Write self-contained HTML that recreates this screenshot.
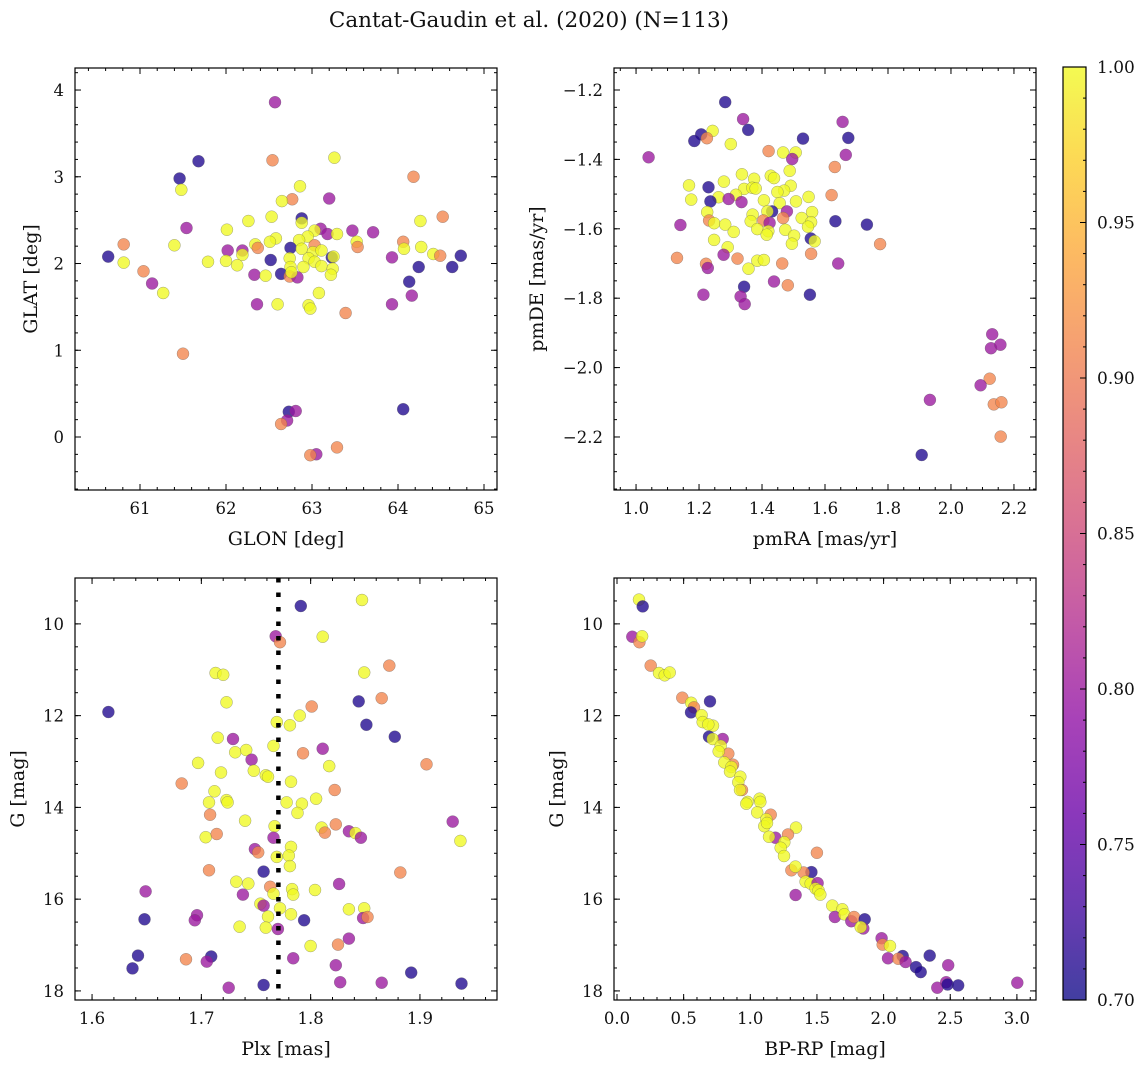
<!DOCTYPE html>
<html><head><meta charset="utf-8">
<style>
html,body{margin:0;padding:0;background:#fff;}
svg{display:block;font-family:"DejaVu Serif","Liberation Serif",serif;}
</style></head>
<body>
<svg id="fig" width="1148" height="1067" viewBox="0 0 1148 1067" xmlns="http://www.w3.org/2000/svg">
<rect x="0" y="0" width="1148" height="1067" fill="#fff"/>
<text x="529" y="27" font-size="21.5" text-anchor="middle" fill="#111">Cantat-Gaudin et al. (2020) (N=113)</text>
</svg>
<script>
// ---------- Panel 1: GLON vs GLAT ----------
const glon = [62.57,62.54,63.26,61.68,61.46,61.48,64.18,62.86,62.77,62.65,63.20,64.52,62.53,62.26,62.88,62.88,64.26,61.54,62.01,63.10,63.18,63.29,63.03,62.95,63.47,63.71,60.81,61.40,62.34,62.37,62.58,62.51,62.85,63.52,63.53,64.06,64.07,64.27,64.41,64.49,64.73,60.63,60.81,61.79,62.02,62.19,62.19,62.00,62.13,62.52,62.75,62.88,63.03,63.01,63.11,63.23,63.25,62.74,62.96,62.75,62.90,63.03,63.11,63.24,63.93,64.24,64.63,61.04,61.14,61.27,62.33,62.46,62.64,62.74,62.83,62.76,63.22,64.13,64.16,63.08,62.36,62.60,62.96,62.98,63.93,63.39,61.50,62.73,62.81,62.71,62.64,64.06,63.29,63.05,62.98];
const glat = [3.86,3.19,3.22,3.18,2.98,2.85,3.00,2.89,2.74,2.72,2.75,2.54,2.54,2.49,2.52,2.47,2.49,2.41,2.39,2.40,2.34,2.34,2.38,2.31,2.38,2.36,2.22,2.21,2.22,2.18,2.29,2.25,2.27,2.25,2.19,2.25,2.17,2.19,2.11,2.09,2.09,2.08,2.01,2.02,2.15,2.15,2.10,2.03,1.98,2.04,2.18,2.17,2.21,2.13,2.15,2.07,2.08,2.06,2.06,1.96,1.96,2.02,1.97,1.94,2.07,1.96,1.96,1.91,1.77,1.66,1.87,1.86,1.88,1.85,1.84,1.90,1.87,1.79,1.63,1.66,1.53,1.53,1.52,1.48,1.53,1.43,0.96,0.29,0.30,0.19,0.15,0.32,-0.12,-0.20,-0.21];
const prob1 = [0.80,0.91,1,0.71,0.71,1,0.91,1,0.91,1,0.80,0.91,1,1,0.71,1,1,0.80,1,0.80,0.80,1,1,1,0.80,0.80,0.91,1,1,0.91,1,1,1,1,0.91,0.91,1,1,1,0.91,0.71,0.71,1,1,0.80,0.80,1,1,1,0.71,0.71,1,0.91,1,1,0.71,1,1,1,1,1,1,1,1,0.80,0.71,0.71,0.91,0.80,1,0.80,1,0.71,0.91,0.80,1,1,0.71,0.80,1,0.80,1,1,1,0.80,0.91,0.91,0.71,0.80,0.80,0.91,0.71,0.91,0.80,0.91];

// ---------- Panel 2: pmRA vs pmDE ----------
const pmra = [1.283,1.340,1.356,1.243,1.207,1.225,1.185,1.301,1.530,1.656,1.674,1.666,1.040,1.421,1.467,1.507,1.496,1.631,1.488,1.336,1.375,1.428,1.438,1.279,1.168,1.230,1.491,1.343,1.369,1.380,1.470,1.317,1.449,1.621,1.262,1.175,1.236,1.294,1.335,1.406,1.508,1.548,1.456,1.479,1.432,1.417,1.226,1.232,1.248,1.370,1.364,1.404,1.424,1.467,1.526,1.559,1.556,1.546,1.283,1.141,1.633,1.733,1.310,1.385,1.420,1.415,1.474,1.502,1.495,1.555,1.567,1.248,1.291,1.775,1.278,1.322,1.556,1.130,1.222,1.228,1.357,1.385,1.406,1.464,1.642,1.438,1.482,1.343,1.214,1.552,1.332,1.345,2.131,2.127,2.157,2.123,2.094,1.933,2.136,2.160,2.158,1.907];
const pmde = [-1.235,-1.284,-1.315,-1.318,-1.328,-1.339,-1.347,-1.356,-1.340,-1.292,-1.338,-1.387,-1.394,-1.376,-1.380,-1.380,-1.399,-1.422,-1.433,-1.443,-1.456,-1.447,-1.454,-1.464,-1.475,-1.480,-1.476,-1.485,-1.482,-1.484,-1.490,-1.502,-1.494,-1.503,-1.509,-1.516,-1.521,-1.514,-1.523,-1.518,-1.521,-1.508,-1.526,-1.550,-1.550,-1.550,-1.552,-1.576,-1.584,-1.559,-1.578,-1.576,-1.583,-1.569,-1.569,-1.552,-1.581,-1.594,-1.588,-1.589,-1.578,-1.588,-1.609,-1.601,-1.607,-1.617,-1.603,-1.620,-1.643,-1.628,-1.636,-1.632,-1.653,-1.644,-1.675,-1.686,-1.672,-1.684,-1.701,-1.713,-1.715,-1.692,-1.690,-1.700,-1.700,-1.752,-1.763,-1.767,-1.790,-1.790,-1.795,-1.817,-1.904,-1.944,-1.934,-2.032,-2.051,-2.093,-2.106,-2.100,-2.199,-2.252];
const prob2 = [0.71,0.80,0.71,1,0.71,0.91,0.71,1,0.71,0.80,0.71,0.80,0.80,0.91,1,1,0.80,0.91,1,1,1,1,1,1,1,0.71,1,1,1,1,1,1,1,0.91,1,1,0.71,0.80,0.80,1,1,1,1,0.80,0.71,1,1,0.91,1,1,1,0.91,0.80,0.91,1,1,1,1,1,0.80,0.71,0.71,1,1,1,1,1,1,1,0.71,1,1,1,0.91,0.80,0.91,0.91,0.91,0.91,0.80,1,1,1,0.91,0.80,0.80,0.91,0.71,0.80,0.71,0.80,0.80,0.80,0.80,0.80,0.91,0.80,0.80,0.91,0.91,0.91,0.71];

// ---------- Panel 3: Plx vs G ----------
const plx = [1.847,1.791,1.811,1.768,1.772,1.872,1.713,1.720,1.849,1.865,1.844,1.723,1.615,1.801,1.790,1.769,1.781,1.851,1.877,1.715,1.729,1.811,1.766,1.731,1.741,1.793,1.746,1.697,1.906,1.817,1.718,1.748,1.759,1.761,1.682,1.782,1.822,1.712,1.707,1.723,1.724,1.778,1.792,1.805,1.788,1.708,1.740,1.930,1.823,1.767,1.810,1.813,1.835,1.841,1.846,1.704,1.714,1.766,1.937,1.749,1.752,1.782,1.780,1.769,1.781,1.757,1.707,1.882,1.732,1.743,1.826,1.763,1.783,1.784,1.804,1.766,1.649,1.738,1.754,1.757,1.772,1.835,1.849,1.782,1.761,1.848,1.852,1.696,1.694,1.648,1.794,1.735,1.759,1.770,1.835,1.800,1.825,1.642,1.709,1.705,1.686,1.784,1.823,1.637,1.892,1.827,1.865,1.938,1.757,1.725];
const gmag3 = [9.48,9.61,10.28,10.27,10.40,10.91,11.07,11.11,11.06,11.62,11.69,11.71,11.92,11.80,12.00,12.14,12.21,12.20,12.46,12.48,12.51,12.72,12.66,12.80,12.75,12.82,12.96,13.03,13.06,13.10,13.24,13.20,13.30,13.33,13.48,13.44,13.62,13.65,13.89,13.84,13.89,13.89,13.92,13.81,14.12,14.16,14.29,14.31,14.37,14.41,14.44,14.55,14.52,14.56,14.66,14.65,14.58,14.66,14.73,14.91,14.98,14.86,15.05,15.08,15.28,15.40,15.37,15.42,15.62,15.66,15.67,15.73,15.78,15.90,15.80,15.88,15.83,15.90,16.10,16.14,16.20,16.22,16.20,16.33,16.38,16.41,16.39,16.35,16.46,16.44,16.46,16.60,16.62,16.65,16.86,17.02,16.99,17.23,17.25,17.36,17.31,17.29,17.44,17.51,17.60,17.81,17.82,17.84,17.87,17.93];
const prob3 = [1,0.71,1,0.80,0.91,0.91,1,1,1,0.91,0.71,1,0.71,0.91,1,1,1,0.71,0.71,1,0.80,0.80,1,1,1,0.91,0.80,1,0.91,1,1,1,1,1,0.91,1,0.91,1,1,1,1,1,1,1,1,0.91,1,0.80,0.91,1,1,0.91,0.80,1,0.80,1,0.91,0.80,1,0.80,0.91,1,1,1,1,0.71,0.91,0.91,1,1,0.80,0.91,1,1,1,1,0.80,0.80,1,0.80,1,1,1,1,1,0.80,0.91,0.80,0.80,0.71,0.71,1,1,0.80,0.80,1,0.91,0.71,0.71,0.80,0.91,0.80,0.80,0.71,0.71,0.80,0.80,0.71,0.71,0.80];
const plxMean = [1.7705];

// ---------- Panel 4: BP-RP vs G ----------
const bprp = [0.165,0.193,0.115,0.168,0.188,0.253,0.315,0.358,0.395,0.49,0.698,0.557,0.578,0.555,0.635,0.643,0.72,0.685,0.69,0.793,0.718,0.778,0.835,0.763,0.87,0.805,0.858,0.848,0.925,0.91,0.938,0.923,0.98,0.97,1.07,1.075,1.153,1.052,1.12,1.105,1.125,1.343,1.283,1.188,1.14,1.255,1.228,1.253,1.50,1.458,1.308,1.40,1.338,1.415,1.453,1.505,1.49,1.512,1.525,1.34,1.615,1.69,1.635,1.705,1.758,1.778,1.858,1.848,1.828,1.985,1.993,2.048,2.033,2.143,2.11,2.165,2.243,2.278,2.346,2.485,2.403,2.47,2.48,2.56,3.003];
const gmag4 = [9.47,9.62,10.28,10.40,10.27,10.91,11.07,11.12,11.06,11.61,11.69,11.72,11.82,11.93,11.99,12.14,12.22,12.19,12.46,12.51,12.51,12.66,12.83,12.78,13.07,13.02,13.12,13.22,13.33,13.45,13.62,13.62,13.88,13.92,13.81,13.88,14.16,14.11,14.26,14.41,14.34,14.44,14.59,14.66,14.64,14.76,14.88,15.06,14.99,15.41,15.37,15.42,15.29,15.62,15.66,15.65,15.77,15.81,15.90,15.91,16.14,16.22,16.39,16.33,16.48,16.39,16.44,16.64,16.61,16.85,16.99,17.02,17.29,17.24,17.30,17.37,17.48,17.59,17.23,17.44,17.93,17.81,17.86,17.88,17.82];
const prob4 = [1,0.71,0.80,0.91,1,0.91,1,1,1,0.91,0.71,1,0.91,0.71,1,1,1,1,0.71,0.80,1,1,0.91,1,0.91,1,1,1,1,1,0.91,1,1,1,1,1,0.91,1,1,1,1,1,0.91,0.80,1,1,1,1,0.91,0.71,0.91,0.91,1,1,1,0.80,1,1,1,0.80,1,1,0.80,1,0.80,0.91,0.71,0.80,1,0.80,0.91,1,0.80,0.71,0.91,0.80,0.71,0.71,0.71,0.80,0.80,0.80,0.71,0.71,0.80];

// ---------- Colorbar ----------
const cbTicks = [0.70,0.75,0.80,0.85,0.90,0.95,1.00];

const SVGNS = "http://www.w3.org/2000/svg";
const svg = document.getElementById('fig');
function mk(tag, attrs, parent){
  const e = document.createElementNS(SVGNS, tag);
  for (const k in attrs) e.setAttribute(k, attrs[k]);
  (parent||svg).appendChild(e);
  return e;
}
const stops = [[0,'#0d0887'],[0.1,'#41049d'],[0.2,'#6a00a8'],[0.3,'#8f0da4'],[0.4,'#b12a90'],[0.5,'#cc4778'],[0.6,'#e16462'],[0.7,'#f2844b'],[0.8,'#fca636'],[0.9,'#fcce25'],[1,'#f0f921']];
function hex(h){return [parseInt(h.substr(1,2),16),parseInt(h.substr(3,2),16),parseInt(h.substr(5,2),16)];}
function plasma(t){
  t = Math.max(0, Math.min(1, t));
  for (let i=0;i<stops.length-1;i++){
    if (t <= stops[i+1][0]){
      const f = (t-stops[i][0])/(stops[i+1][0]-stops[i][0]);
      const a = hex(stops[i][1]), b = hex(stops[i+1][1]);
      return 'rgb('+a.map((v,j)=>Math.round(v+(b[j]-v)*f)).join(',')+')';
    }
  }
  return stops[stops.length-1][1];
}
const vmin = 0.70, vmax = 1.00;
function colorOf(p){ return plasma((p-vmin)/(vmax-vmin)); }
function fmt(v, d){ const s = v.toFixed(d); return s.replace('-', '\u2212'); }
function seq(a,b,s){ const r=[]; for(let v=a; v<=b+1e-9; v+=s) r.push(Math.round(v*1000)/1000); return r; }

function panel(cfg){
  const {name, L, T, W, H, xmin, xmax, ymin, ymax, xMaj, xMin, yMaj, yMin, xd, yd, xs, ys, ps, xlabel, ylabel, ylabelX, invY} = cfg;
  const g = mk('g', {});
  
  
  const sx = v => L + (v - xmin) / (xmax - xmin) * W;
  const sy = invY ? (v => T + (v - ymin) / (ymax - ymin) * H) : (v => T + (ymax - v) / (ymax - ymin) * H);
  const clip = mk('clipPath', {id: name+'-clip'}, g);
  mk('rect', {x:L, y:T, width:W, height:H}, clip);
  const pts = mk('g', {'clip-path':'url(#'+name+'-clip)'}, g);
  
  
  for (let i=0;i<xs.length;i++){
    const c = mk('circle', {cx:sx(xs[i]).toFixed(1), cy:sy(ys[i]).toFixed(1), r:6, fill:colorOf(ps[i]), 'fill-opacity':0.78, stroke:'rgba(90,90,90,0.55)', 'stroke-width':0.5}, pts);
    
    
  }
  if (cfg.vline){
    const ln = mk('line', {x1:sx(cfg.vline[0]), x2:sx(cfg.vline[0]), y1:T, y2:T+H, stroke:'#000', 'stroke-width':4.5, 'stroke-dasharray':'4.5 10'}, pts);
    
    
  }
  const tk = mk('g', {stroke:'#000', 'stroke-width':1}, g);
  const eps = 1e-9;
  function range(step, lo, hi){ const r=[]; for (let k=Math.ceil((lo-eps)/step); k*step<=hi+eps; k++) r.push(k*step); return r; }
  range(xMin, xmin, xmax).forEach(v=>{ const x=sx(v); mk('line',{x1:x,x2:x,y1:T+H,y2:T+H-3},tk); mk('line',{x1:x,x2:x,y1:T,y2:T+3},tk); });
  range(yMin, ymin, ymax).forEach(v=>{ const y=sy(v); mk('line',{x1:L,x2:L+3,y1:y,y2:y},tk); mk('line',{x1:L+W,x2:L+W-3,y1:y,y2:y},tk); });
  xMaj.forEach(v=>{ const x=sx(v); mk('line',{x1:x,x2:x,y1:T+H,y2:T+H-6},tk); mk('line',{x1:x,x2:x,y1:T,y2:T+6},tk);
    const t = mk('text',{x:x, y:T+H+24, 'font-size':16.5, 'text-anchor':'middle', fill:'#111'}, g); t.textContent = fmt(v, xd);
      });
  yMaj.forEach(v=>{ const y=sy(v); mk('line',{x1:L,x2:L+6,y1:y,y2:y},tk); mk('line',{x1:L+W,x2:L+W-6,y1:y,y2:y},tk);
    const t = mk('text',{x:L-11, y:y+6, 'font-size':16.5, 'text-anchor':'end', fill:'#111'}, g); t.textContent = fmt(v, yd);
      });
  const fr = mk('rect', {x:L, y:T, width:W, height:H, fill:'none', stroke:'#000', 'stroke-width':1.2}, g);
   
  const xl = mk('text', {x:L+W/2, y:T+H+55, 'font-size':19, 'text-anchor':'middle', fill:'#111'}, g);
  xl.textContent = xlabel;  
  const yl = mk('text', {x:ylabelX, y:T+H/2, 'font-size':19, 'text-anchor':'middle', fill:'#111', transform:'rotate(-90 '+ylabelX+' '+(T+H/2)+')'}, g);
  yl.textContent = ylabel;  
}

panel({name:'glon-glat-panel', L:75, T:68, W:422, H:422, xmin:60.244, xmax:65.151, ymin:-0.611, ymax:4.254,
  xMaj:seq(61,65,1), xMin:0.2, yMaj:seq(0,4,1), yMin:0.2, xd:0, yd:0, xs:glon, ys:glat, ps:prob1,
  xlabel:'GLON [deg]', ylabel:'GLAT [deg]', ylabelX:37});
panel({name:'pm-panel', L:614, T:68, W:422, H:422, xmin:0.930, xmax:2.270, ymin:-2.3528, ymax:-1.1366,
  xMaj:seq(1.0,2.2,0.2), xMin:0.05, yMaj:[-2.2,-2.0,-1.8,-1.6,-1.4,-1.2], yMin:0.05, xd:1, yd:1, xs:pmra, ys:pmde, ps:prob2,
  xlabel:'pmRA [mas/yr]', ylabel:'pmDE [mas/yr]', ylabelX:543});
panel({name:'plx-g-panel', L:75, T:578, W:422, H:422, xmin:1.5844, xmax:1.9705, ymin:9.0, ymax:18.198, invY:true,
  xMaj:seq(1.6,1.9,0.1), xMin:0.02, yMaj:seq(10,18,2), yMin:0.5, xd:1, yd:0, xs:plx, ys:gmag3, ps:prob3,
  xlabel:'Plx [mas]', ylabel:'G [mag]', ylabelX:24, vline:plxMean});
panel({name:'cmd-panel', L:614, T:578, W:422, H:422, xmin:-0.0225, xmax:3.1433, ymin:9.0, ymax:18.198, invY:true,
  xMaj:seq(0,3,0.5), xMin:0.1, yMaj:seq(10,18,2), yMin:0.5, xd:1, yd:0, xs:bprp, ys:gmag4, ps:prob4,
  xlabel:'BP-RP [mag]', ylabel:'G [mag]', ylabelX:563});

(function(){
  const L=1063, T=67, W=23, H=933;
  const g = mk('g', {});
  
  
  const defs = mk('defs', {}, g);
  const lg = mk('linearGradient', {id:'cbgrad', x1:0, y1:1, x2:0, y2:0}, defs);
  for (let i=0;i<=20;i++){ mk('stop', {offset:(i/20), 'stop-color':plasma(i/20)}, lg); }
  const r = mk('rect', {x:L, y:T, width:W, height:H, fill:'url(#cbgrad)', 'fill-opacity':0.78}, g);
  
  
  const sy = v => T + (vmax - v)/(vmax - vmin)*H;
  for (let k=0;k<=30;k++){ const v = vmin + k*0.01; const y = sy(v); mk('line',{x1:L+W,x2:L+W-3,y1:y,y2:y,stroke:'#000','stroke-width':1}, g); }
  cbTicks.forEach(v=>{ const y=sy(v); mk('line',{x1:L+W,x2:L+W-6,y1:y,y2:y,stroke:'#000','stroke-width':1}, g);
    const t = mk('text',{x:L+W+11, y:y+6, 'font-size':17, fill:'#111'}, g); t.textContent = v.toFixed(2);
      });
  mk('rect', {x:L, y:T, width:W, height:H, fill:'none', stroke:'#000', 'stroke-width':1.2}, g);
})();
</script>
</body></html>
